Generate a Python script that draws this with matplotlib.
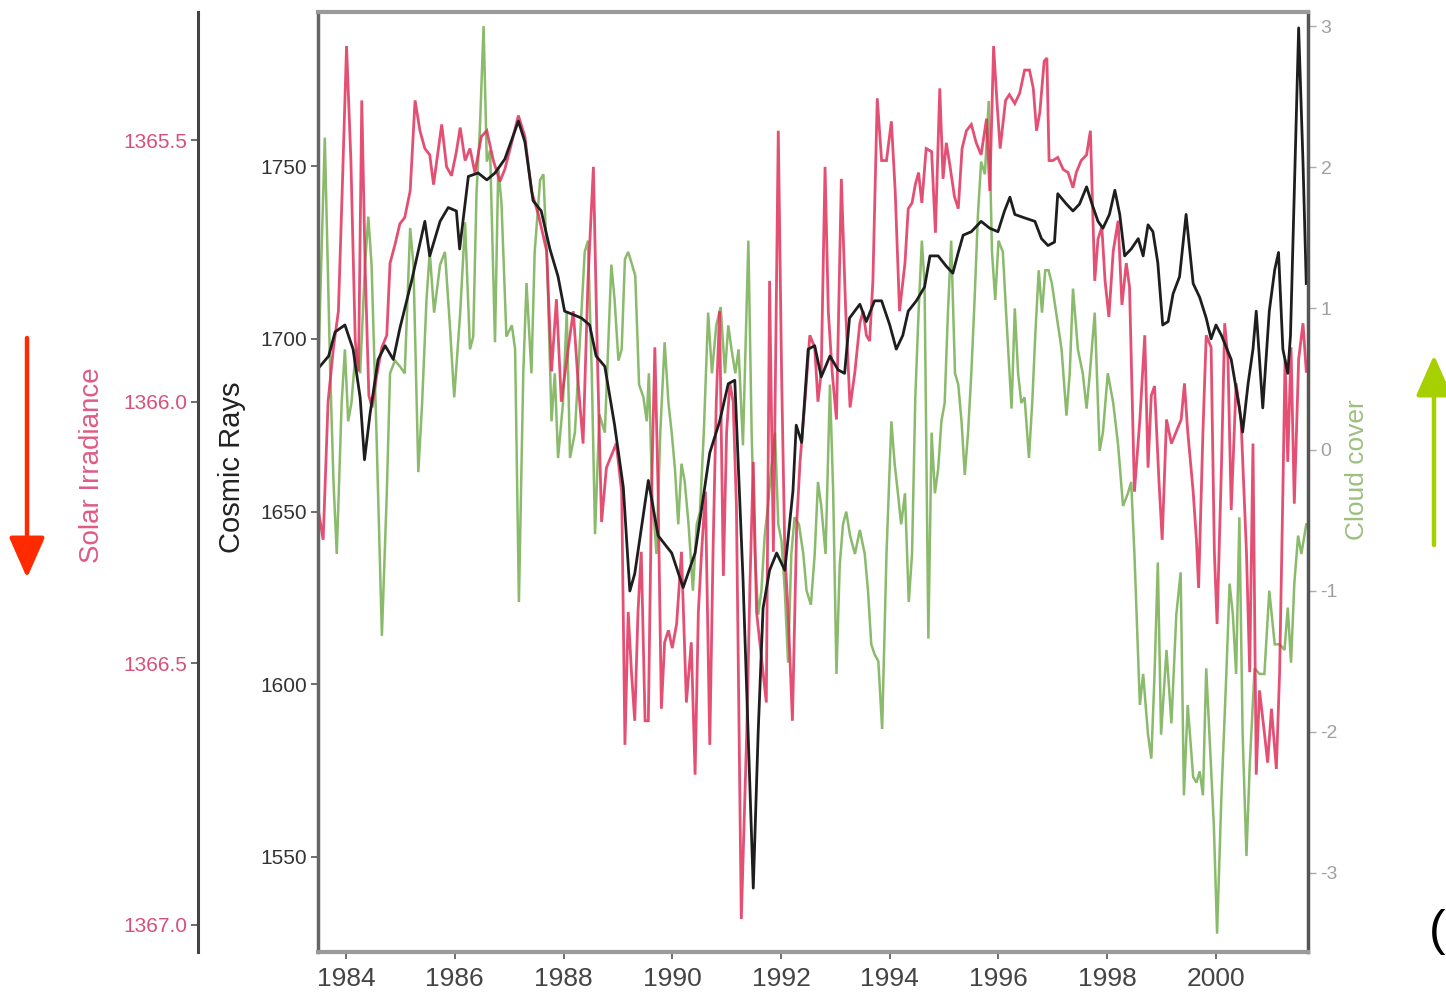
import matplotlib
matplotlib.use("Agg")
import matplotlib.pyplot as plt
from matplotlib.patches import FancyArrowPatch
from matplotlib.ticker import FormatStrFormatter

# ---------------- data ----------------
cr_year = [1983.52, 1983.68, 1983.80, 1983.98, 1984.13, 1984.26, 1984.34, 1984.44, 1984.59, 1984.72,
           1984.87, 1984.99, 1985.21, 1985.45, 1985.54, 1985.73, 1985.88, 1986.03, 1986.09, 1986.25,
           1986.43, 1986.59, 1986.74, 1986.92, 1987.17, 1987.29, 1987.44, 1987.59, 1987.75, 1987.90,
           1988.02, 1988.18, 1988.33, 1988.48, 1988.60, 1988.76, 1988.94, 1989.10, 1989.22, 1989.31,
           1989.56, 1989.74, 1989.99, 1990.20, 1990.42, 1990.69, 1990.87, 1991.03, 1991.15, 1991.30,
           1991.49, 1991.58, 1991.67, 1991.79, 1991.92, 1992.07, 1992.22, 1992.28, 1992.38, 1992.50,
           1992.62, 1992.74, 1992.90, 1993.05, 1993.17, 1993.26, 1993.45, 1993.57, 1993.72, 1993.85,
           1994.00, 1994.12, 1994.24, 1994.34, 1994.49, 1994.64, 1994.74, 1994.89, 1995.04, 1995.16,
           1995.26, 1995.35, 1995.50, 1995.68, 1995.84, 1995.99, 1996.11, 1996.21, 1996.30, 1996.48,
           1996.67, 1996.79, 1996.91, 1997.03, 1997.09, 1997.25, 1997.37, 1997.49, 1997.62, 1997.72,
           1997.83, 1997.92, 1998.04, 1998.14, 1998.23, 1998.32, 1998.44, 1998.57, 1998.66, 1998.75,
           1998.84, 1998.93, 1999.02, 1999.12, 1999.21, 1999.33, 1999.45, 1999.58, 1999.70, 1999.82,
           1999.91, 2000.00, 2000.10, 2000.28, 2000.43, 2000.49, 2000.59, 2000.68, 2000.74, 2000.86,
           2000.98, 2001.08, 2001.15, 2001.23, 2001.32, 2001.37, 2001.44, 2001.52, 2001.60, 2001.66]
cr_value = [1692, 1695, 1702, 1704, 1697, 1683, 1665, 1678, 1694, 1698,
            1694, 1703, 1717, 1734, 1724, 1734, 1738, 1737, 1726, 1747,
            1748, 1746, 1748, 1752, 1763, 1757, 1740, 1737, 1726, 1718,
            1708, 1707, 1706, 1704, 1695, 1692, 1675, 1657, 1627, 1632,
            1659, 1643, 1638, 1628, 1638, 1667, 1676, 1687, 1688, 1631,
            1541, 1586, 1622, 1633, 1638, 1633, 1656, 1675, 1670, 1697,
            1698, 1689, 1695, 1691, 1690, 1706, 1710, 1705, 1711, 1711,
            1704, 1697, 1701, 1708, 1711, 1715, 1724, 1724, 1721, 1719,
            1725, 1730, 1731, 1734, 1732, 1731, 1737, 1741, 1736, 1735,
            1734, 1729, 1727, 1728, 1742, 1739, 1737, 1739, 1744, 1739,
            1734, 1732, 1736, 1743, 1736, 1724, 1726, 1729, 1724, 1733,
            1731, 1722, 1704, 1705, 1713, 1718, 1736, 1716, 1712, 1706,
            1700, 1704, 1701, 1694, 1680, 1673, 1687, 1697, 1708, 1680,
            1708, 1720, 1725, 1697, 1690, 1701, 1743, 1790, 1751, 1716]

tsi_year = [1983.49, 1983.58, 1983.67, 1983.77, 1983.86, 1983.93, 1984.01, 1984.09, 1984.17, 1984.23,
            1984.29, 1984.35, 1984.42, 1984.48, 1984.56, 1984.66, 1984.75, 1984.81, 1984.90, 1984.99,
            1985.08, 1985.18, 1985.27, 1985.36, 1985.45, 1985.54, 1985.61, 1985.67, 1985.76, 1985.85,
            1985.94, 1986.03, 1986.10, 1986.19, 1986.28, 1986.37, 1986.49, 1986.59, 1986.71, 1986.83,
            1986.92, 1987.02, 1987.17, 1987.29, 1987.41, 1987.54, 1987.69, 1987.78, 1987.87, 1987.96,
            1988.09, 1988.18, 1988.27, 1988.36, 1988.45, 1988.55, 1988.62, 1988.70, 1988.79, 1988.88,
            1988.97, 1989.07, 1989.13, 1989.19, 1989.25, 1989.31, 1989.37, 1989.43, 1989.50, 1989.56,
            1989.62, 1989.68, 1989.74, 1989.80, 1989.86, 1989.93, 1990.00, 1990.08, 1990.17, 1990.26,
            1990.35, 1990.42, 1990.48, 1990.54, 1990.61, 1990.69, 1990.75, 1990.81, 1990.87, 1990.94,
            1991.00, 1991.06, 1991.12, 1991.18, 1991.27, 1991.37, 1991.43, 1991.49, 1991.55, 1991.61,
            1991.67, 1991.73, 1991.79, 1991.86, 1991.95, 1992.01, 1992.07, 1992.13, 1992.21, 1992.29,
            1992.35, 1992.44, 1992.53, 1992.62, 1992.68, 1992.74, 1992.81, 1992.87, 1992.94, 1993.02,
            1993.11, 1993.19, 1993.27, 1993.36, 1993.45, 1993.51, 1993.57, 1993.63, 1993.69, 1993.77,
            1993.85, 1993.94, 1994.03, 1994.10, 1994.18, 1994.28, 1994.34, 1994.41, 1994.47, 1994.53,
            1994.59, 1994.67, 1994.77, 1994.84, 1994.92, 1994.98, 1995.04, 1995.11, 1995.19, 1995.26,
            1995.33, 1995.41, 1995.50, 1995.59, 1995.68, 1995.78, 1995.84, 1995.91, 1995.97, 1996.03,
            1996.13, 1996.20, 1996.30, 1996.39, 1996.48, 1996.57, 1996.64, 1996.70, 1996.76, 1996.84,
            1996.89, 1996.93, 1997.00, 1997.09, 1997.19, 1997.28, 1997.37, 1997.43, 1997.52, 1997.62,
            1997.69, 1997.77, 1997.83, 1997.90, 1997.96, 1998.03, 1998.11, 1998.20, 1998.27, 1998.35,
            1998.41, 1998.50, 1998.60, 1998.69, 1998.75, 1998.81, 1998.87, 1998.95, 1999.01, 1999.09,
            1999.18, 1999.27, 1999.36, 1999.42, 1999.48, 1999.58, 1999.64, 1999.68, 1999.76, 1999.82,
            1999.91, 1999.97, 2000.02, 2000.10, 2000.16, 2000.22, 2000.28, 2000.37, 2000.46, 2000.56,
            2000.62, 2000.68, 2000.74, 2000.80, 2000.89, 2000.95, 2001.02, 2001.11, 2001.17, 2001.23,
            2001.27, 2001.32, 2001.38, 2001.44, 2001.52, 2001.60, 2001.66]
tsi_value = [1366.207, 1366.264, 1366.000, 1365.896, 1365.827, 1365.597, 1365.320, 1365.539, 1365.884, 1365.942,
             1365.424, 1365.735, 1365.988, 1366.011, 1365.953, 1365.896, 1365.873, 1365.735, 1365.700, 1365.660,
             1365.648, 1365.597, 1365.424, 1365.482, 1365.516, 1365.528, 1365.585, 1365.539, 1365.470, 1365.551,
             1365.568, 1365.522, 1365.476, 1365.539, 1365.516, 1365.562, 1365.493, 1365.482, 1365.539, 1365.579,
             1365.556, 1365.516, 1365.453, 1365.493, 1365.597, 1365.643, 1365.712, 1365.942, 1365.804, 1366.000,
             1365.896, 1365.827, 1365.965, 1366.080, 1365.769, 1365.551, 1365.900, 1366.230, 1366.126, 1366.103,
             1366.080, 1366.172, 1366.656, 1366.402, 1366.517, 1366.610, 1366.402, 1366.287, 1366.610, 1366.610,
             1366.172, 1365.896, 1366.172, 1366.587, 1366.460, 1366.437, 1366.471, 1366.425, 1366.287, 1366.575,
             1366.460, 1366.713, 1366.402, 1366.287, 1366.172, 1366.656, 1366.287, 1366.000, 1365.827, 1366.333,
             1366.057, 1365.965, 1366.000, 1366.200, 1366.989, 1366.633, 1366.345, 1366.115, 1366.402, 1366.460,
             1366.517, 1366.575, 1365.769, 1366.287, 1365.482, 1365.942, 1366.287, 1366.402, 1366.610, 1366.230,
             1366.115, 1366.000, 1365.873, 1365.896, 1366.000, 1365.942, 1365.551, 1365.827, 1365.942, 1366.034,
             1365.574, 1365.827, 1366.011, 1365.942, 1365.850, 1365.827, 1365.873, 1365.884, 1365.769, 1365.420,
             1365.539, 1365.539, 1365.464, 1365.597, 1365.827, 1365.735, 1365.631, 1365.620, 1365.585, 1365.562,
             1365.620, 1365.516, 1365.522, 1365.677, 1365.401, 1365.574, 1365.505, 1365.551, 1365.608, 1365.631,
             1365.516, 1365.482, 1365.470, 1365.505, 1365.528, 1365.459, 1365.597, 1365.320, 1365.424, 1365.516,
             1365.424, 1365.413, 1365.430, 1365.410, 1365.366, 1365.366, 1365.401, 1365.482, 1365.447, 1365.349,
             1365.343, 1365.539, 1365.539, 1365.533, 1365.556, 1365.562, 1365.591, 1365.562, 1365.539, 1365.528,
             1365.482, 1365.769, 1365.689, 1365.666, 1365.769, 1365.838, 1365.712, 1365.654, 1365.815, 1365.735,
             1365.781, 1366.172, 1366.034, 1365.873, 1366.126, 1365.988, 1365.970, 1366.150, 1366.264, 1366.034,
             1366.080, 1366.057, 1366.034, 1365.965, 1366.057, 1366.172, 1366.264, 1366.356, 1366.057, 1365.873,
             1365.896, 1366.287, 1366.425, 1366.126, 1365.850, 1365.919, 1366.207, 1365.965, 1366.034, 1366.287,
             1366.517, 1366.080, 1366.713, 1366.552, 1366.633, 1366.690, 1366.587, 1366.702, 1366.517, 1366.172,
             1365.919, 1366.115, 1365.896, 1366.195, 1365.919, 1365.850, 1365.942]

cloud_year = [1983.50, 1983.61, 1983.71, 1983.77, 1983.83, 1983.92, 1983.98, 1984.04, 1984.10, 1984.18,
              1984.26, 1984.35, 1984.41, 1984.47, 1984.56, 1984.66, 1984.75, 1984.81, 1984.90, 1984.99,
              1985.08, 1985.18, 1985.24, 1985.33, 1985.40, 1985.48, 1985.54, 1985.62, 1985.73, 1985.82,
              1985.91, 1985.99, 1986.10, 1986.19, 1986.28, 1986.34, 1986.40, 1986.46, 1986.53, 1986.59,
              1986.65, 1986.74, 1986.80, 1986.86, 1986.95, 1987.05, 1987.11, 1987.18, 1987.26, 1987.32,
              1987.41, 1987.47, 1987.57, 1987.63, 1987.70, 1987.78, 1987.84, 1987.90, 1987.99, 1988.06,
              1988.12, 1988.21, 1988.30, 1988.39, 1988.45, 1988.52, 1988.58, 1988.66, 1988.76, 1988.88,
              1988.94, 1989.01, 1989.07, 1989.13, 1989.19, 1989.26, 1989.32, 1989.39, 1989.47, 1989.53,
              1989.57, 1989.63, 1989.71, 1989.78, 1989.86, 1989.93, 1989.99, 1990.05, 1990.11, 1990.17,
              1990.23, 1990.30, 1990.38, 1990.45, 1990.51, 1990.58, 1990.66, 1990.73, 1990.81, 1990.89,
              1990.97, 1991.03, 1991.09, 1991.16, 1991.22, 1991.30, 1991.40, 1991.46, 1991.52, 1991.58,
              1991.64, 1991.70, 1991.76, 1991.82, 1991.89, 1991.95, 1992.01, 1992.07, 1992.13, 1992.19,
              1992.25, 1992.33, 1992.41, 1992.47, 1992.55, 1992.62, 1992.68, 1992.74, 1992.82, 1992.90,
              1992.96, 1993.02, 1993.08, 1993.14, 1993.20, 1993.27, 1993.36, 1993.45, 1993.54, 1993.60,
              1993.66, 1993.72, 1993.79, 1993.86, 1993.94, 1994.03, 1994.09, 1994.15, 1994.21, 1994.28,
              1994.35, 1994.41, 1994.47, 1994.53, 1994.59, 1994.64, 1994.71, 1994.77, 1994.83, 1994.89,
              1994.95, 1995.01, 1995.07, 1995.13, 1995.20, 1995.26, 1995.32, 1995.38, 1995.44, 1995.50,
              1995.56, 1995.62, 1995.68, 1995.75, 1995.82, 1995.88, 1995.94, 1996.00, 1996.08, 1996.14,
              1996.24, 1996.30, 1996.36, 1996.42, 1996.48, 1996.56, 1996.62, 1996.68, 1996.74, 1996.80,
              1996.86, 1996.92, 1996.98, 1997.06, 1997.16, 1997.25, 1997.31, 1997.37, 1997.46, 1997.55,
              1997.62, 1997.68, 1997.77, 1997.86, 1997.92, 1998.01, 1998.11, 1998.20, 1998.29, 1998.38,
              1998.44, 1998.50, 1998.60, 1998.66, 1998.75, 1998.81, 1998.87, 1998.93, 1998.99, 1999.09,
              1999.18, 1999.27, 1999.35, 1999.41, 1999.48, 1999.58, 1999.64, 1999.70, 1999.76, 1999.82,
              1999.88, 1999.96, 2000.02, 2000.10, 2000.19, 2000.25, 2000.31, 2000.37, 2000.43, 2000.49,
              2000.56, 2000.62, 2000.71, 2000.80, 2000.89, 2000.98, 2001.08, 2001.17, 2001.26, 2001.32,
              2001.38, 2001.44, 2001.51, 2001.57, 2001.66]
cloud_value = [0.71, 2.21, 0.54, -0.23, -0.74, 0.33, 0.71, 0.20, 0.33, 0.71,
               0.54, 1.31, 1.65, 1.31, 0.12, -1.32, -0.31, 0.54, 0.63, 0.59,
               0.54, 1.57, 1.31, -0.16, 0.33, 1.06, 1.40, 0.97, 1.31, 1.40,
               0.88, 0.37, 0.97, 1.61, 0.71, 0.80, 1.82, 2.25, 3.00, 2.04,
               2.12, 0.76, 2.00, 1.74, 0.80, 0.88, 0.71, -1.08, 0.54, 1.18,
               0.54, 1.40, 1.91, 1.95, 1.31, 0.20, 0.54, -0.06, 0.33, 0.97,
               -0.06, 0.12, 0.76, 1.40, 1.48, 0.54, -0.60, 0.25, 0.12, 1.31,
               1.06, 0.63, 0.71, 1.35, 1.40, 1.31, 1.23, 0.46, 0.37, 0.20,
               0.54, -0.31, -0.74, 0.12, 0.76, 0.33, 0.12, -0.14, -0.53, -0.10,
               -0.23, -0.53, -1.00, -0.53, -0.44, 0.12, 0.97, 0.54, 0.88, 1.01,
               0.54, 0.88, 0.71, 0.54, 0.71, 0.03, 1.48, 0.12, -0.74, -1.17,
               -1.00, -0.61, -0.40, -0.14, 0.12, -0.53, -0.65, -1.00, -1.51, -0.74,
               -0.48, -0.53, -0.74, -1.00, -1.10, -0.74, -0.23, -0.40, -0.74, 0.46,
               -0.31, -1.59, -0.82, -0.53, -0.44, -0.61, -0.74, -0.57, -0.74, -1.00,
               -1.38, -1.45, -1.50, -1.98, -0.74, 0.20, -0.10, -0.31, -0.53, -0.31,
               -1.08, -0.74, 0.37, 0.97, 1.48, 1.18, -1.34, 0.12, -0.31, -0.14,
               0.20, 0.33, 0.97, 1.48, 0.54, 0.46, 0.20, -0.18, 0.12, 0.54,
               1.06, 1.65, 2.04, 1.95, 2.47, 1.40, 1.06, 1.48, 1.40, 0.97,
               0.29, 1.00, 0.54, 0.33, 0.37, -0.06, 0.33, 0.84, 1.27, 0.97,
               1.27, 1.27, 1.18, 0.97, 0.71, 0.24, 0.54, 1.14, 0.71, 0.54,
               0.29, 0.54, 0.97, -0.01, 0.12, 0.54, 0.33, 0.03, -0.40, -0.31,
               -0.23, -0.74, -1.81, -1.59, -2.02, -2.19, -1.59, -0.80, -2.02, -1.42,
               -1.94, -1.17, -0.87, -2.45, -1.81, -2.32, -2.36, -2.28, -2.45, -1.55,
               -2.02, -2.66, -3.43, -2.45, -1.59, -0.95, -1.17, -1.59, -0.48, -2.02,
               -2.88, -2.24, -1.55, -1.59, -1.59, -1.00, -1.38, -1.38, -1.42, -1.12,
               -1.51, -0.95, -0.61, -0.74, -0.53]

year_ticks = [1984, 1986, 1988, 1990, 1992, 1994, 1996, 1998, 2000]
cr_ticks = [1550, 1600, 1650, 1700, 1750]
tsi_ticks = [1365.5, 1366.0, 1366.5, 1367.0]
cloud_ticks = [-3, -2, -1, 0, 1, 2, 3]

# ---------------- figure ----------------
plt.rcParams['font.family'] = ['Liberation Sans Narrow', 'Liberation Sans', 'DejaVu Sans']
W, H = 1446, 997
fig = plt.figure(figsize=(W / 100, H / 100), dpi=100)
fig.patch.set_facecolor('white')

L, R, T, B = 318, 1308, 12, 952
ax = fig.add_axes([L / W, 1 - B / H, (R - L) / W, (B - T) / H])

ax_tsi = ax.twinx()
ax_cl = ax.twinx()

# cloud cover (green) - bottom layer
ax_cl.plot(cloud_year, cloud_value, color='#63a33a', lw=1.8, alpha=0.75, solid_joinstyle='miter')
ax_cl.set_ylim(-3.56, 3.10)
# solar irradiance (red) - inverted axis
ax_tsi.plot(tsi_year, tsi_value, color='#e0305c', lw=2.0, alpha=0.85, solid_joinstyle='miter')
ax_tsi.set_ylim(1367.052, 1365.255)
# cosmic rays (black) on top
ax.plot(cr_year, cr_value, color='#1e1e1e', lw=2.0)
ax.set_ylim(1522.5, 1794.6)
ax.set_xlim(1983.485, 2001.692)

ax.set_zorder(3)
ax.patch.set_visible(False)
ax_tsi.set_zorder(2)
ax_cl.set_zorder(1)

# main box spines
for s in ['top', 'bottom']:
    ax.spines[s].set_color('#9a9a9a')
    ax.spines[s].set_linewidth(3)
ax.spines['left'].set_color('#666666')
ax.spines['left'].set_linewidth(2.5)
ax.spines['right'].set_color('#555555')
ax.spines['right'].set_linewidth(2.5)

ax.set_xticks(year_ticks)
ax.set_xticklabels([str(y) for y in year_ticks])
ax.tick_params(axis='x', direction='out', length=5, width=1.2, colors='#555555',
               labelsize=19, labelcolor='#444444', pad=6)
ax.set_yticks(cr_ticks)
ax.tick_params(axis='y', direction='out', length=5, width=1.2, colors='#555555',
               labelsize=15, labelcolor='#333333', pad=3)

# solar irradiance axis (left, offset)
ax_tsi.yaxis.tick_left()
ax_tsi.spines['left'].set_visible(True)
ax_tsi.spines['left'].set_position(('axes', (198 - L) / (R - L)))
ax_tsi.spines['left'].set_color('#444444')
ax_tsi.spines['left'].set_linewidth(2.2)
for s in ['top', 'bottom', 'right']:
    ax_tsi.spines[s].set_visible(False)
ax_tsi.set_yticks(tsi_ticks)
ax_tsi.yaxis.set_major_formatter(FormatStrFormatter('%.1f'))
ax_tsi.tick_params(axis='y', direction='out', length=5, width=1.2, colors='#555555',
                   labelsize=15, labelcolor='#d8507a', pad=3)

# cloud cover axis (right)
for s in ['top', 'bottom', 'left', 'right']:
    ax_cl.spines[s].set_visible(False)
ax_cl.set_yticks(cloud_ticks)
ax_cl.set_yticklabels([str(v) for v in cloud_ticks])
ax_cl.tick_params(axis='y', direction='out', length=6, width=1.0, colors='#aaaaaa',
                  labelsize=14, labelcolor='#a0a0a0', pad=3)

# axis labels
fig.text(92 / W, 1 - 465 / H, 'Solar Irradiance', rotation=90, ha='center', va='center',
         fontsize=20, color='#e05a85')
fig.text(232 / W, 1 - 467 / H, 'Cosmic Rays', rotation=90, ha='center', va='center',
         fontsize=21, color='#222222')
fig.text(1357 / W, 1 - 470 / H, 'Cloud cover', rotation=90, ha='center', va='center',
         fontsize=19, color='#9cc07e')

# arrows
red_arrow = FancyArrowPatch((27 / W, 1 - 338 / H), (27 / W, 1 - 578 / H),
                            transform=fig.transFigure, arrowstyle='-|>,head_length=25,head_width=11',
                            mutation_scale=1, color='#ff2a00', lw=3.2, shrinkA=0, shrinkB=0)
green_arrow = FancyArrowPatch((1434 / W, 1 - 545 / H), (1434 / W, 1 - 355 / H),
                              transform=fig.transFigure, arrowstyle='-|>,head_length=25,head_width=11',
                              mutation_scale=1, color='#a6d000', lw=3.2, shrinkA=0, shrinkB=0)
fig.add_artist(red_arrow)
fig.add_artist(green_arrow)

# panel label fragment at the right edge
fig.text(1445 / W, 1 - 932 / H, '(', ha='right', va='center', fontsize=36, color='black')

fig.savefig('out.png', dpi=100, facecolor='white')
